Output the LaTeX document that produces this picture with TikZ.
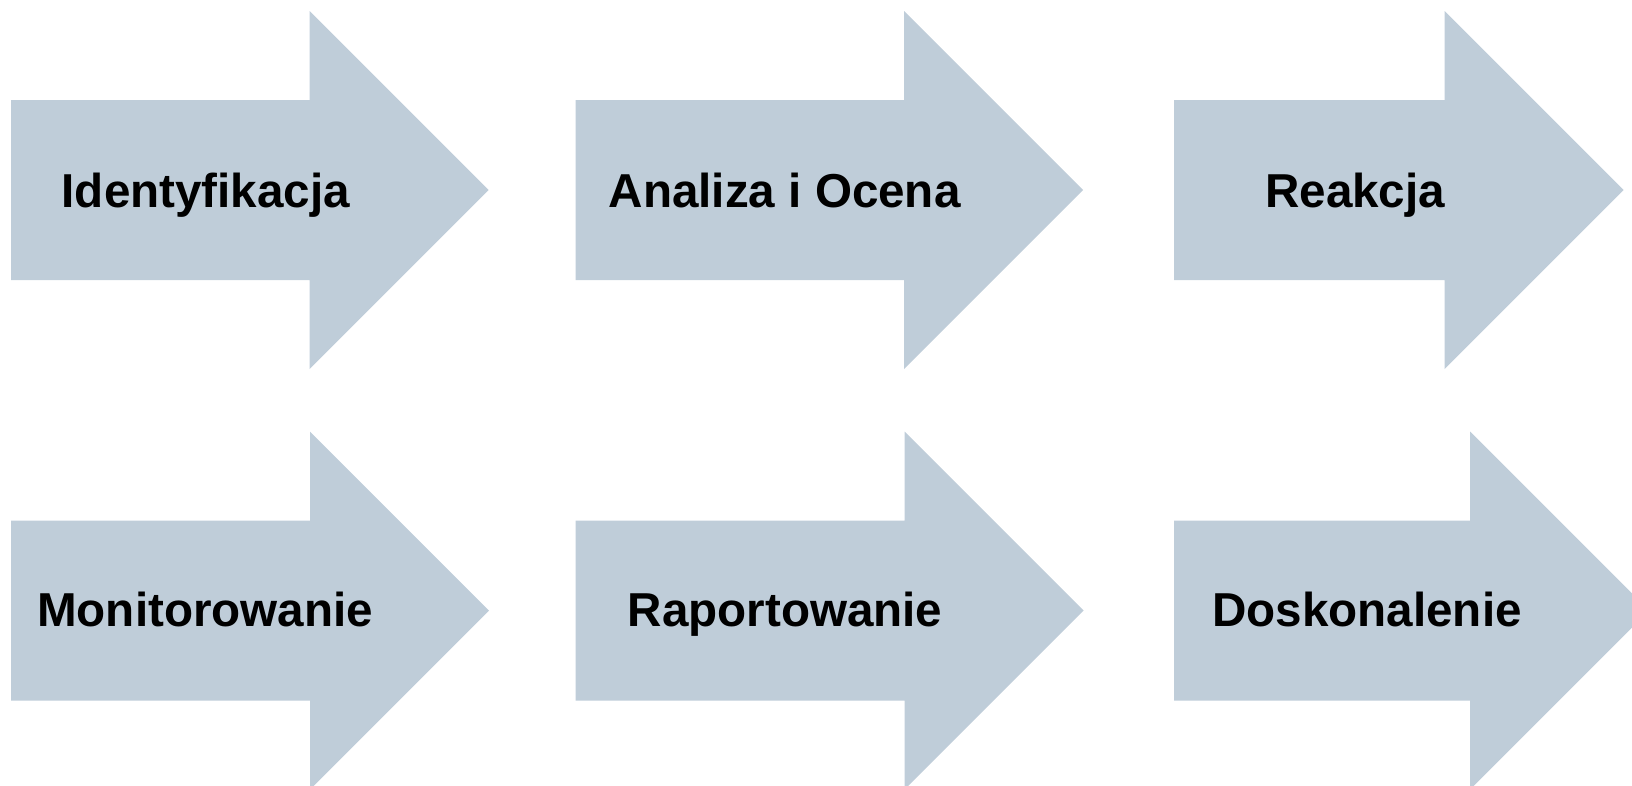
\documentclass[tikz,border=0pt]{standalone}
\usepackage{fontspec}
\setmainfont{Liberation Sans}
\definecolor{stagefill}{RGB}{191,205,217}
\tikzset{
  stageshape/.style={fill=stagefill, draw=none},
  stagelabel/.style={anchor=base west, inner sep=0pt, text=black,
    font=\fontsize{47.6}{57}\selectfont\bfseries},
}
% #1 body left, #2 head base, #3 centre line (downward y)
\newcommand{\stageblock}[3]{%
  \path[stageshape] (#1,#3-90) -- (#2,#3-90) -- (#2,#3-179) -- (#2+179,#3)
    -- (#2,#3+179) -- (#2,#3+90) -- (#1,#3+90) -- cycle;
}
\begin{document}
\begin{tikzpicture}[x=1pt,y=-1pt]
  \useasboundingbox (0,0) rectangle (1632,785);
  \clip (0,0) rectangle (1632,785);
  % top row
  \stageblock{11}{309.5}{190}
  \stageblock{575.5}{904}{190}
  \stageblock{1174}{1444.5}{190}
  % bottom row
  \stageblock{11}{310}{610.5}
  \stageblock{575.5}{904.5}{610.5}
  \stageblock{1174}{1470}{610.5}
  % labels
  \node[stagelabel] (identyfikacja) at (61.5,207) {Identyfikacja};
  \node[stagelabel] (analiza) at (608.5,207) {Analiza i Ocena};
  \node[stagelabel] (reakcja) at (1265,207) {Reakcja};
  \node[stagelabel] (monitorowanie) at (37,626.5) {Monitorowanie};
  \node[stagelabel] (raportowanie) at (627.5,626.5) {Raportowanie};
  \node[stagelabel] (doskonalenie) at (1212,626.5) {Doskonalenie};
\end{tikzpicture}
\end{document}
